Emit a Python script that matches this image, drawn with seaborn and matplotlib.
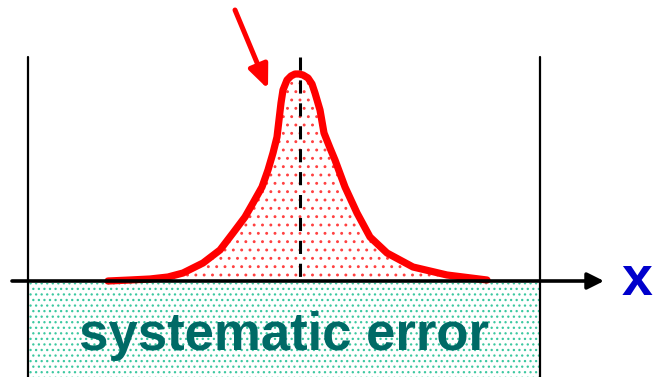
import matplotlib
matplotlib.use('Agg')
import matplotlib.pyplot as plt
import seaborn as sns
import pandas as pd

# picture coordinates: x in pixels, h = height above the x axis in pixels
curve_x = [108, 130, 150, 168, 183, 203, 220, 233, 245, 253, 262, 268, 273,
           277, 279, 281, 283, 287, 291, 295, 299, 303, 308, 312, 315, 320,
           324, 330, 335, 345, 357, 370, 387, 413, 447, 487]
curve_h = [0, 1, 2, 4, 8, 18, 31, 48, 64, 78, 94, 111, 128,
           144, 161, 178, 191, 201, 205, 207, 207, 206, 203, 197, 188, 171,
           148, 133, 121, 94, 68, 44, 28, 14, 6, 1]

peak_x = 300
frame_left, frame_right = 28, 540
frame_top = 224
axis_start, axis_end = 12, 604
bottom = -96
label_text = 'systematic error'
axis_label = 'x'

sns.set_theme(style='white')
plt.rcParams['font.family'] = ['Liberation Sans', 'DejaVu Sans']
plt.rcParams['hatch.linewidth'] = 0.9

fig = plt.figure(figsize=(6.54, 3.77), dpi=100)
ax = fig.add_axes([0, 0, 1, 1])
ax.set_xlim(0, 654)
ax.set_ylim(bottom, 281)
ax.axis('off')

# teal dotted region below the axis
ax.fill_between([frame_left, frame_right], bottom, -2, facecolor='white',
                edgecolor='#3cc8a0', hatch='...', linewidth=0)

# red dotted area under the curve
ax.fill_between(curve_x, curve_h, 0, facecolor='white',
                edgecolor='#ff4040', hatch='..', linewidth=0)

# frame lines
for fx in (frame_left, frame_right):
    ax.plot([fx, fx], [frame_top, bottom], color='black', lw=1.6)

# dashed line at the peak
ax.plot([peak_x, peak_x], [frame_top, 0], color='black', lw=2.2,
        linestyle=(0, (4.3, 3.2)))

# x axis with arrow
ax.annotate('', xy=(axis_end, 0), xytext=(axis_start, 0),
            arrowprops=dict(arrowstyle='-|>,head_length=10,head_width=5',
                            mutation_scale=1, lw=2.6, color='black',
                            shrinkA=0, shrinkB=0))

# curve
df = pd.DataFrame({'x': curve_x, 'h': curve_h})
sns.lineplot(data=df, x='x', y='h', ax=ax, color='red', lw=5.2,
             sort=False, estimator=None, solid_joinstyle='round')

# red pointer arrow
ax.annotate('', xy=(268, 192), xytext=(235, 271),
            arrowprops=dict(arrowstyle='-|>,head_length=14,head_width=6',
                            mutation_scale=1, lw=3.6, color='red',
                            shrinkA=0, shrinkB=0))

ax.text(284, -69, label_text, ha='center', va='baseline', fontsize=38,
        fontweight='bold', color='#006a66')
ax.text(637, 0, axis_label, ha='center', va='center', fontsize=40,
        fontweight='bold', color='#0000cc')

fig.savefig('out.png', dpi=100)
